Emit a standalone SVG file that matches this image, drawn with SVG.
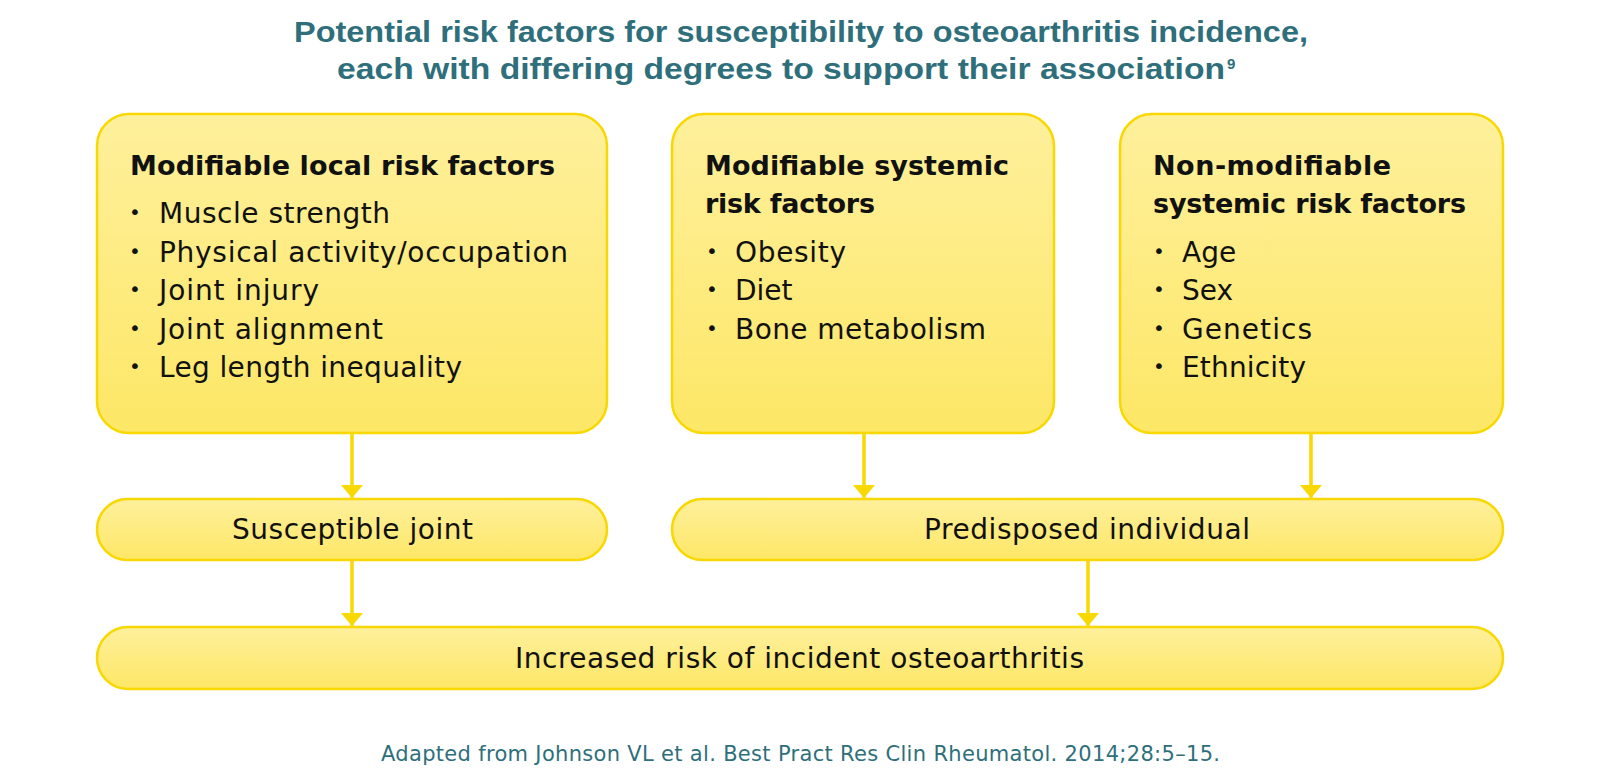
<svg xmlns="http://www.w3.org/2000/svg" width="1600" height="773" viewBox="0 0 1600 773">
<defs>
<linearGradient id="g" x1="0" y1="0" x2="0" y2="1">
<stop offset="0" stop-color="#fef09c"/>
<stop offset="1" stop-color="#fde766"/>
</linearGradient>
<marker id="ah" viewBox="0 0 13 22" refX="13" refY="11" markerWidth="13" markerHeight="22" markerUnits="userSpaceOnUse" orient="auto">
<path d="M0,0 L13,11 L0,22 Z" fill="#f9d700"/>
</marker>
<style>
.box{fill:url(#g);stroke:#f9d700;stroke-width:2.5}
.t{font-family:"DejaVu Sans",Verdana,sans-serif;fill:#111}
.h{font-size:27px;font-weight:bold}
.b{font-size:28px}
.d{font-size:20px}
.ti{font-family:"Liberation Sans",Arial,sans-serif;fill:#2e6f7b;font-weight:bold;font-size:30px}
.sup{font-size:15px}
.ft{font-family:"DejaVu Sans",Verdana,sans-serif;fill:#2e6f7b;font-size:21px}
.c{stroke:#f9d700;stroke-width:3.5;fill:none}
</style>
</defs>
<rect width="1600" height="773" fill="#fff"/>
<g id="title">
<text class="ti" x="294" y="42" textLength="1014" lengthAdjust="spacingAndGlyphs">Potential risk factors for susceptibility to osteoarthritis incidence,</text>
<text class="ti" x="337" y="79" textLength="888" lengthAdjust="spacingAndGlyphs">each with differing degrees to support their association</text>
<text class="ti sup" x="1227" y="69">9</text>
</g>
<g id="connectors">
<line class="c" x1="352" y1="434" x2="352" y2="498" marker-end="url(#ah)"/>
<line class="c" x1="864" y1="434" x2="864" y2="498" marker-end="url(#ah)"/>
<line class="c" x1="1311" y1="434" x2="1311" y2="498" marker-end="url(#ah)"/>
<line class="c" x1="352" y1="561" x2="352" y2="626" marker-end="url(#ah)"/>
<line class="c" x1="1088" y1="561" x2="1088" y2="626" marker-end="url(#ah)"/>
</g>
<g id="local">
<rect class="box" x="97" y="114" width="510" height="319" rx="32"/>
<text class="t h" x="130" y="175" textLength="425" lengthAdjust="spacing">Modifiable local risk factors</text>
<g class="t b">
<text class="d" x="129" y="219">•</text><text x="159" y="223" textLength="231" lengthAdjust="spacing">Muscle strength</text>
<text class="d" x="129" y="258">•</text><text x="159" y="262" textLength="409" lengthAdjust="spacing">Physical activity/occupation</text>
<text class="d" x="129" y="296">•</text><text x="159" y="300" textLength="160" lengthAdjust="spacing">Joint injury</text>
<text class="d" x="129" y="335">•</text><text x="159" y="339" textLength="224" lengthAdjust="spacing">Joint alignment</text>
<text class="d" x="129" y="373">•</text><text x="159" y="377" textLength="303" lengthAdjust="spacing">Leg length inequality</text>
</g>
</g>
<g id="systemic">
<rect class="box" x="672" y="114" width="382" height="319" rx="32"/>
<text class="t h" x="705" y="175" textLength="304" lengthAdjust="spacing">Modifiable systemic</text>
<text class="t h" x="705" y="213" textLength="170" lengthAdjust="spacing">risk factors</text>
<g class="t b">
<text class="d" x="706" y="258">•</text><text x="735" y="262" textLength="111" lengthAdjust="spacing">Obesity</text>
<text class="d" x="706" y="296">•</text><text x="735" y="300">Diet</text>
<text class="d" x="706" y="335">•</text><text x="735" y="339" textLength="251" lengthAdjust="spacing">Bone metabolism</text>
</g>
</g>
<g id="nonmod">
<rect class="box" x="1120" y="114" width="383" height="319" rx="32"/>
<text class="t h" x="1153" y="175" textLength="238" lengthAdjust="spacing">Non-modifiable</text>
<text class="t h" x="1153" y="213" textLength="313" lengthAdjust="spacing">systemic risk factors</text>
<g class="t b">
<text class="d" x="1153" y="258">•</text><text x="1182" y="262">Age</text>
<text class="d" x="1153" y="296">•</text><text x="1182" y="300">Sex</text>
<text class="d" x="1153" y="335">•</text><text x="1182" y="339" textLength="130" lengthAdjust="spacing">Genetics</text>
<text class="d" x="1153" y="373">•</text><text x="1182" y="377" textLength="124" lengthAdjust="spacing">Ethnicity</text>
</g>
</g>
<g id="joint">
<rect class="box" x="97" y="499" width="510" height="61" rx="30.5"/>
<text class="t b" x="232" y="539" textLength="241" lengthAdjust="spacing">Susceptible joint</text>
</g>
<g id="individual">
<rect class="box" x="672" y="499" width="831" height="61" rx="30.5"/>
<text class="t b" x="924" y="539" textLength="326" lengthAdjust="spacing">Predisposed individual</text>
</g>
<g id="risk">
<rect class="box" x="97" y="627" width="1406" height="62" rx="31"/>
<text class="t b" x="515" y="668" textLength="569" lengthAdjust="spacing">Increased risk of incident osteoarthritis</text>
</g>
<g id="footer">
<text class="ft" x="381" y="761" textLength="839" lengthAdjust="spacing">Adapted from Johnson VL et al. Best Pract Res Clin Rheumatol. 2014;28:5–15.</text>
</g>
</svg>
